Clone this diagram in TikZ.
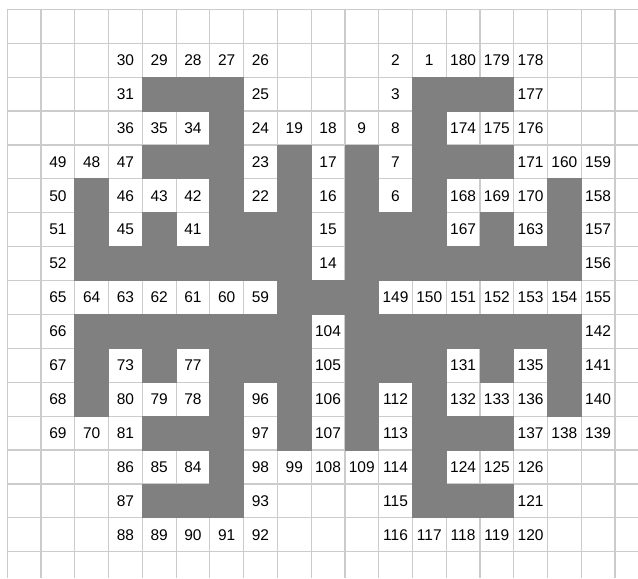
\documentclass[tikz,border=0pt]{standalone}
\usepackage{fontspec}
\setmainfont{Liberation Sans}
\definecolor{gridc}{RGB}{204,204,204}
\definecolor{cellg}{RGB}{128,128,128}
\tikzset{
  gridline/.style={draw=gridc, line width=1.2pt},
  wall/.style={fill=cellg, draw=cellg, line width=0.8pt},
  num/.style={inner sep=0pt, font=\fontsize{15.5}{16}\selectfont, text=black}
}
\begin{document}
\begin{tikzpicture}[x=33.76pt,y=-33.9pt]
\useasboundingbox[fill=white] (-0.2162,-0.2743) rectangle (18.682,16.776);
% grid
\foreach \k in {0,...,18} \draw[gridline] (\k,0) -- (\k,16.776);
\foreach \j in {0,...,16} \draw[gridline] (0,\j) -- (18.682,\j);
% gray cells
\foreach \c/\r in {
 4/2,5/2,6/2,12/2,13/2,14/2,
 6/3,12/3,
 4/4,5/4,6/4,8/4,10/4,12/4,13/4,14/4,
 2/5,6/5,8/5,10/5,12/5,16/5,
 2/6,4/6,6/6,7/6,8/6,10/6,11/6,12/6,14/6,16/6,
 2/7,3/7,4/7,5/7,6/7,7/7,8/7,10/7,11/7,12/7,13/7,14/7,15/7,16/7,
 8/8,9/8,10/8,
 2/9,3/9,4/9,5/9,6/9,7/9,8/9,10/9,11/9,12/9,13/9,14/9,15/9,16/9,
 2/10,4/10,6/10,7/10,8/10,10/10,11/10,12/10,14/10,16/10,
 2/11,6/11,8/11,10/11,12/11,16/11,
 4/12,5/12,6/12,8/12,10/12,12/12,13/12,14/12,
 6/13,12/13,
 4/14,5/14,6/14,12/14,13/14,14/14}
  \path[wall] (\c,\r) rectangle ++(1,1);
% numbers
\foreach \c/\r/\t in {
 3/1/30,4/1/29,5/1/28,6/1/27,7/1/26,11/1/2,12/1/1,13/1/180,14/1/179,15/1/178,
 3/2/31,7/2/25,11/2/3,15/2/177,
 3/3/36,4/3/35,5/3/34,7/3/24,8/3/19,9/3/18,10/3/9,11/3/8,13/3/174,14/3/175,15/3/176,
 1/4/49,2/4/48,3/4/47,7/4/23,9/4/17,11/4/7,15/4/171,16/4/160,17/4/159,
 1/5/50,3/5/46,4/5/43,5/5/42,7/5/22,9/5/16,11/5/6,13/5/168,14/5/169,15/5/170,17/5/158,
 1/6/51,3/6/45,5/6/41,9/6/15,13/6/167,15/6/163,17/6/157,
 1/7/52,9/7/14,17/7/156,
 1/8/65,2/8/64,3/8/63,4/8/62,5/8/61,6/8/60,7/8/59,11/8/149,12/8/150,13/8/151,14/8/152,15/8/153,16/8/154,17/8/155,
 1/9/66,9/9/104,17/9/142,
 1/10/67,3/10/73,5/10/77,9/10/105,13/10/131,15/10/135,17/10/141,
 1/11/68,3/11/80,4/11/79,5/11/78,7/11/96,9/11/106,11/11/112,13/11/132,14/11/133,15/11/136,17/11/140,
 1/12/69,2/12/70,3/12/81,7/12/97,9/12/107,11/12/113,15/12/137,16/12/138,17/12/139,
 3/13/86,4/13/85,5/13/84,7/13/98,8/13/99,9/13/108,10/13/109,11/13/114,13/13/124,14/13/125,15/13/126,
 3/14/87,7/14/93,11/14/115,15/14/121,
 3/15/88,4/15/89,5/15/90,6/15/91,7/15/92,11/15/116,12/15/117,13/15/118,14/15/119,15/15/120}
  \node[num] (n\t) at (\c+0.5,\r+0.5) {\t};
\end{tikzpicture}
\end{document}
